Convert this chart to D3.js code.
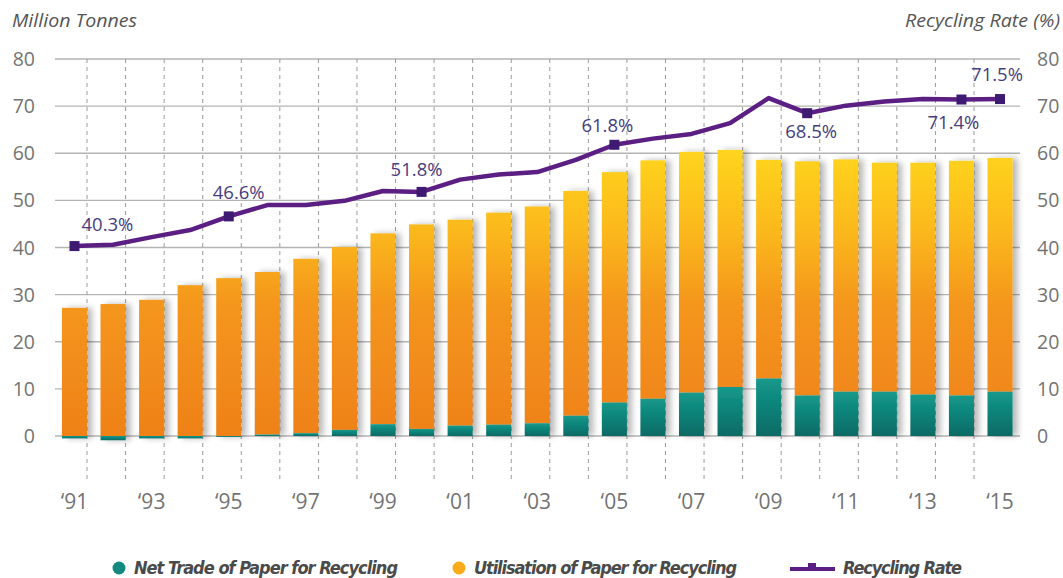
<!DOCTYPE html>
<html>
<head>
<meta charset="utf-8">
<script src="https://cdn.jsdelivr.net/npm/d3@7"></script>
<style>
  body { margin: 0; background: #fff; }
  svg text { font-family: "Open Sans", "Noto Sans", sans-serif; }
</style>
</head>
<body>
<div id="chart"></div>
<script>
const years = ["1991","1992","1993","1994","1995","1996","1997","1998","1999","2000","2001","2002","2003",
               "2004","2005","2006","2007","2008","2009","2010","2011","2012","2013","2014","2015"];
const netTrade = [-0.5,-0.9,-0.5,-0.5,-0.2,0.3,0.6,1.3,2.5,1.5,2.2,2.4,2.7,4.3,7.1,7.9,9.2,10.4,12.2,8.6,9.4,9.4,8.8,8.6,9.4];
const utilisation = [27.2,28.0,28.9,32.0,33.5,34.8,37.6,40.1,43.0,44.9,45.9,47.4,48.7,52.0,56.0,58.5,60.3,60.7,58.6,58.3,58.7,58.0,58.0,58.4,59.0];
const recyclingRate = [40.3,40.6,42.2,43.7,46.6,49.0,49.0,49.9,52.0,51.8,54.4,55.5,56.0,58.6,61.8,63.1,64.1,66.4,71.7,68.5,70.1,71.0,71.5,71.4,71.5];
const rateLabels = [
  {year: "1991", text: "40.3%", dx: 33, dy: -15},
  {year: "1995", text: "46.6%", dx: 10, dy: -17},
  {year: "2000", text: "51.8%", dx: -5, dy: -16},
  {year: "2005", text: "61.8%", dx: -7, dy: -13},
  {year: "2010", text: "68.5%", dx: 4, dy: 25},
  {year: "2014", text: "71.4%", dx: -8, dy: 29},
  {year: "2015", text: "71.5%", dx: -3, dy: -18}
];
const tickYears = ["1991","1993","1995","1997","1999","2001","2003","2005","2007","2009","2011","2013","2015"];
const yTicks = [0,10,20,30,40,50,60,70,80];

const W = 1063, H = 578;
const svg = d3.select('#chart').append('svg').attr('width', W).attr('height', H);

const x = d3.scaleBand().domain(years).range([55.2, 1019.3]).paddingInner(0.35).paddingOuter(0.175);
const y = d3.scaleLinear().domain([0, 80]).range([436, 59]);
const yRate = d3.scaleLinear().domain([0, 80]).range([436, 59]);

const defs = svg.append('defs');
const og = defs.append('linearGradient').attr('id', 'orangeGrad')
    .attr('gradientUnits', 'userSpaceOnUse').attr('x1', 0).attr('x2', 0).attr('y1', y(62)).attr('y2', y(0));
og.append('stop').attr('offset', '0%').attr('stop-color', '#ffd720');
og.append('stop').attr('offset', '30%').attr('stop-color', '#fbb81c');
og.append('stop').attr('offset', '55%').attr('stop-color', '#f4961b');
og.append('stop').attr('offset', '100%').attr('stop-color', '#ef8119');
const tg = defs.append('linearGradient').attr('id', 'tealGrad').attr('x1', 0).attr('x2', 0).attr('y1', 0).attr('y2', 1);
tg.append('stop').attr('offset', '0%').attr('stop-color', '#14998b');
tg.append('stop').attr('offset', '100%').attr('stop-color', '#096a64');
const shadow = defs.append('filter').attr('id', 'shadow').attr('x', '-30%').attr('y', '-5%').attr('width', '180%').attr('height', '110%');
shadow.append('feGaussianBlur').attr('in', 'SourceAlpha').attr('stdDeviation', 3);
shadow.append('feOffset').attr('dx', 5).attr('dy', 0).attr('result', 'off');
shadow.append('feComponentTransfer').append('feFuncA').attr('type', 'linear').attr('slope', 0.28);
const merge = shadow.append('feMerge');
merge.append('feMergeNode');
merge.append('feMergeNode').attr('in', 'SourceGraphic');

// horizontal gridlines
svg.append('g').selectAll('line').data(yTicks).enter().append('line')
    .attr('x1', 55).attr('x2', 1020)
    .attr('y1', d => y(d)).attr('y2', d => y(d))
    .attr('stroke', '#b4b4b4').attr('stroke-width', 1.3);

// dashed dividers between years
const step = x.step();
svg.append('g').selectAll('line').data(years.slice(1)).enter().append('line')
    .attr('x1', d => x(d) - step * 0.175 * 2).attr('x2', d => x(d) - step * 0.175 * 2)
    .attr('y1', 59).attr('y2', 483)
    .attr('stroke', '#9a9a9a').attr('stroke-width', 1).attr('stroke-dasharray', '4 4');

// bars
const bars = svg.append('g').attr('filter', 'url(#shadow)');
years.forEach((yr, i) => {
    const base = Math.max(0, netTrade[i]);
    bars.append('rect')
        .attr('x', x(yr)).attr('width', x.bandwidth())
        .attr('y', y(utilisation[i]))
        .attr('height', y(base) - y(utilisation[i]))
        .attr('fill', 'url(#orangeGrad)');
    bars.append('rect')
        .attr('x', x(yr)).attr('width', x.bandwidth())
        .attr('y', y(base))
        .attr('height', Math.abs(y(netTrade[i]) - y(0)))
        .attr('fill', 'url(#tealGrad)');
});

// recycling rate line
const line = d3.line().x((d, i) => x(years[i]) + x.bandwidth() / 2).y(d => yRate(d));
svg.append('path').datum(recyclingRate)
    .attr('fill', 'none').attr('stroke', '#5b1e83').attr('stroke-width', 4.5)
    .attr('stroke-linejoin', 'round')
    .attr('d', line);

rateLabels.forEach(l => {
    const i = years.indexOf(l.year);
    const cx = x(l.year) + x.bandwidth() / 2;
    const cy = yRate(recyclingRate[i]);
    svg.append('rect').attr('x', cx - 5).attr('y', cy - 5).attr('width', 10).attr('height', 10).attr('fill', '#3f1a72');
    svg.append('text').attr('x', cx + l.dx).attr('y', cy + l.dy)
        .attr('text-anchor', 'middle').style('font-size', '18.5px').style('fill', '#473d80')
        .text(l.text);
});

// axes text
svg.append('g').selectAll('text').data(yTicks).enter().append('text')
    .attr('x', 35).attr('y', d => y(d) + 7).attr('text-anchor', 'end')
    .style('font-size', '19.5px').style('fill', '#737373').text(d => d);
svg.append('g').selectAll('text').data(yTicks).enter().append('text')
    .attr('x', 1037).attr('y', d => yRate(d) + 7).attr('text-anchor', 'start')
    .style('font-size', '19.5px').style('fill', '#737373').text(d => d);
svg.append('g').selectAll('text').data(tickYears).enter().append('text')
    .attr('x', d => x(d) + x.bandwidth() / 2).attr('y', 509).attr('text-anchor', 'middle')
    .style('font-size', '21px').style('fill', '#737373').text(d => '\u2018' + d.slice(2));

svg.append('text').attr('x', 12).attr('y', 27).attr('textLength', 125).attr('lengthAdjust', 'spacingAndGlyphs')
    .style('font-size', '18.5px').style('font-style', 'italic')
    .style('fill', '#555').text('Million Tonnes');
svg.append('text').attr('x', 905).attr('y', 27).attr('textLength', 155).attr('lengthAdjust', 'spacingAndGlyphs')
    .style('font-size', '18.5px')
    .style('font-style', 'italic').style('fill', '#555').text('Recycling Rate (%)');

// legend
const legendFont = '"Liberation Sans Narrow", "DejaVu Sans Condensed", sans-serif';
const legend = svg.append('g');
legend.append('circle').attr('cx', 119).attr('cy', 568).attr('r', 6.5).attr('fill', '#14897f');
legend.append('text').attr('x', 134).attr('y', 574).attr('textLength', 264)
    .style('font-family', legendFont).style('font-size', '18px').style('font-weight', 'bold').style('font-style', 'italic')
    .style('fill', '#4a4a4a').text('Net Trade of Paper for Recycling');
legend.append('circle').attr('cx', 459).attr('cy', 568).attr('r', 6.5).attr('fill', '#f9ab1b');
legend.append('text').attr('x', 474).attr('y', 574).attr('textLength', 263)
    .style('font-family', legendFont).style('font-size', '18px').style('font-weight', 'bold').style('font-style', 'italic')
    .style('fill', '#4a4a4a').text('Utilisation of Paper for Recycling');
legend.append('line').attr('x1', 790).attr('x2', 835).attr('y1', 569).attr('y2', 569)
    .attr('stroke', '#5b1e83').attr('stroke-width', 4);
legend.append('rect').attr('x', 808).attr('y', 563).attr('width', 8).attr('height', 8).attr('fill', '#5b1e83');
legend.append('text').attr('x', 843).attr('y', 574).attr('textLength', 119)
    .style('font-family', legendFont).style('font-size', '18px').style('font-weight', 'bold').style('font-style', 'italic')
    .style('fill', '#4a4a4a').text('Recycling Rate');
</script>
</body>
</html>
